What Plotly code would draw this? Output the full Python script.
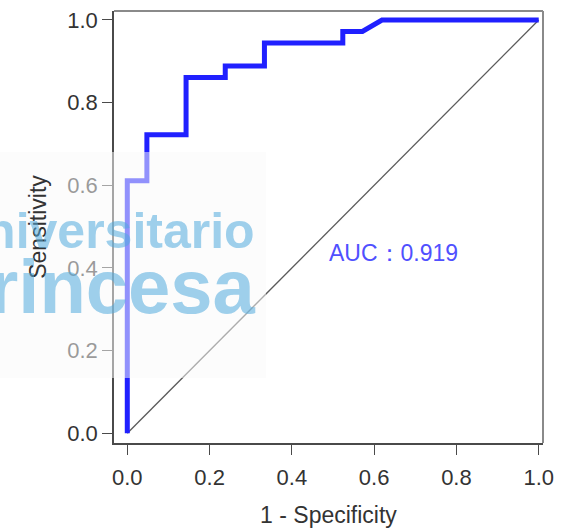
import plotly.graph_objects as go

# ROC curve points (1 - specificity, sensitivity)
fpr = [0.0, 0.0, 1/21, 1/21, 3/21, 3/21, 5/21, 5/21, 7/21, 7/21, 11/21, 11/21, 12/21, 13/21, 1.0]
tpr = [0.0, 22/36, 22/36, 26/36, 26/36, 31/36, 31/36, 32/36, 32/36, 34/36, 34/36, 35/36, 35/36, 1.0, 1.0]
diag = [0.0, 1.0]
ticks = [0.0, 0.2, 0.4, 0.6, 0.8, 1.0]
tick_text = ["0.0", "0.2", "0.4", "0.6", "0.8", "1.0"]
auc_label = "AUC：0.919"

W, H = 561, 532
L, R, T, B = 114, 18, 11, 89

def px(x):
    return (x - L) / (W - L - R)

def py(y):
    return (H - B - y) / (H - T - B)

fig = go.Figure()
fig.add_trace(go.Scatter(x=diag, y=diag, mode="lines",
                         line=dict(color="#5a5a5a", width=1.3), hoverinfo="skip"))
fig.add_trace(go.Scatter(x=fpr, y=tpr, mode="lines",
                         line=dict(color="#2020ff", width=5), hoverinfo="skip"))

font_family = "Liberation Sans, Arial, sans-serif"
axis_common = dict(
    showline=True, linecolor="#4a4a4a", linewidth=1.6,
    ticks="outside", ticklen=10, tickwidth=1.4, tickcolor="#4a4a4a",
    tickvals=ticks, ticktext=tick_text, showgrid=False, zeroline=False,
    automargin=False,
    tickfont=dict(family=font_family, size=22, color="#333333"),
)

fig.update_layout(
    width=W, height=H,
    margin=dict(l=L, r=R, t=T, b=B, autoexpand=False),
    plot_bgcolor="white", paper_bgcolor="white",
    showlegend=False,
    xaxis=dict(range=[-0.0323, 1.0104],
               title=dict(text="1 - Specificity", standoff=18,
                          font=dict(family=font_family, size=23, color="#333333")),
               ticklabelstandoff=4, **axis_common),
    yaxis=dict(range=[-0.0234, 1.0217],
               title=dict(text="Sensitivity", standoff=14,
                          font=dict(family=font_family, size=23, color="#333333")),
               **axis_common),
)

# top and right box borders (lighter)
fig.add_shape(type="line", xref="paper", yref="paper", x0=0, x1=1, y0=1, y1=1,
              line=dict(color="#8a8a8a", width=2))
fig.add_shape(type="line", xref="paper", yref="paper", x0=1, x1=1, y0=0, y1=1,
              line=dict(color="#8a8a8a", width=2))

# semi-transparent overlay box behind watermark
fig.add_shape(type="rect", xref="paper", yref="paper", layer="above",
              x0=px(-5), x1=px(266), y0=py(378), y1=py(152),
              fillcolor="rgba(250,250,250,0.52)", line=dict(width=0))

fig.add_annotation(x=0.485, y=0.4355, xref="x", yref="y",
                   text=auc_label, showarrow=False, xanchor="left", yanchor="middle",
                   font=dict(family=font_family, size=23, color="#5050ff"))

# watermark
fig.add_annotation(x=px(257), y=py(231), xref="paper", yref="paper",
                   text="<b>Universitario</b>", showarrow=False, xanchor="right", yanchor="middle",
                   font=dict(family=font_family, size=50, color="rgba(80,170,220,0.55)"))
fig.add_annotation(x=px(258), y=py(286), xref="paper", yref="paper",
                   text="<b>Princesa</b>", showarrow=False, xanchor="right", yanchor="middle",
                   font=dict(family=font_family, size=76, color="rgba(80,170,220,0.55)"))

fig.write_html("out.html")
